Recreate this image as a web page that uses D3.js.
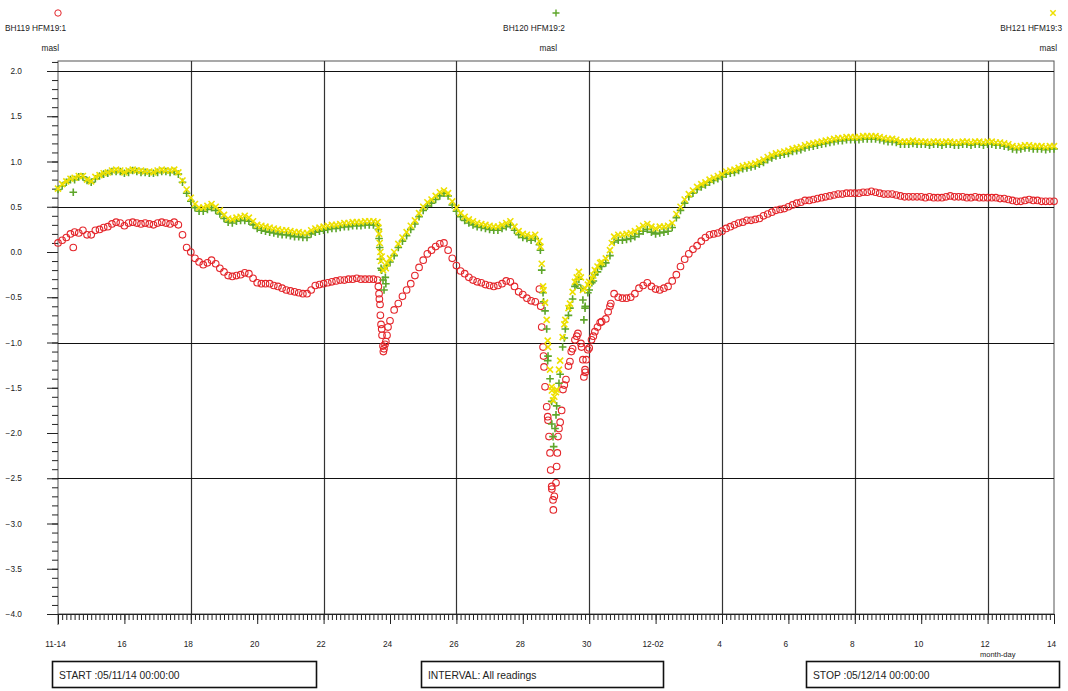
<!DOCTYPE html>
<html><head><meta charset="utf-8">
<script src="https://cdn.jsdelivr.net/npm/d3@7"></script>
<style>
body{margin:0;background:#fff}
svg{display:block}
text{font-family:"Liberation Sans",Arial,Helvetica,sans-serif;fill:#222}
</style>
</head><body>
<svg id="chart" width="1068" height="691"></svg>
<script>
// ---------- data ----------
const startDate = new Date(2014, 10, 14, 0, 0, 0);
const stopDate  = new Date(2014, 11, 14, 0, 0, 0);
const stepHours = 3; // regular reading interval
const seriesNames = ["BH119 HFM19:1", "BH120 HFM19:2", "BH121 HFM19:3"];
const unitLabel = "masl";
const yMajorTicks = [2.0, 1.5, 1.0, 0.5, 0.0, -0.5, -1.0, -1.5, -2.0, -2.5, -3.0, -3.5, -4.0];
const yGridValues = [2.0, 0.5, -1.0, -2.5];
const xLabelTicks = ["2014-11-14","2014-11-16","2014-11-18","2014-11-20","2014-11-22","2014-11-24","2014-11-26","2014-11-28","2014-11-30","2014-12-02","2014-12-04","2014-12-06","2014-12-08","2014-12-10","2014-12-12","2014-12-14"];
const xTickLabels = ["11-14","16","18","20","22","24","26","28","30","12-02","4","6","8","10","12","14"];
const xGridDates = ["2014-11-18","2014-11-22","2014-11-26","2014-11-30","2014-12-04","2014-12-08","2014-12-12"];
const footerTexts = ["START :05/11/14 00:00:00", "INTERVAL: All readings", "STOP :05/12/14 00:00:00"];

// regular 3-hourly readings (one row per day)
const bh119 = [
 0.10,0.13,0.16,0.20,0.22,0.21,0.24,0.19,
 0.19,0.24,0.25,0.27,0.28,0.31,0.33,0.32,
 0.29,0.32,0.33,0.32,0.31,0.32,0.31,0.30,
 0.32,0.33,0.32,0.31,0.33,0.30,0.19,0.05,
 0.00,-0.07,-0.11,-0.14,-0.12,-0.09,-0.13,-0.18,
 -0.22,-0.26,-0.27,-0.26,-0.25,-0.23,-0.24,-0.29,
 -0.34,-0.35,-0.35,-0.35,-0.37,-0.38,-0.40,-0.42,
 -0.43,-0.44,-0.45,-0.46,-0.46,-0.42,-0.37,-0.36,
 -0.35,-0.34,-0.33,-0.32,-0.31,-0.31,-0.30,-0.30,
 -0.29,-0.30,-0.30,-0.30,-0.30,-0.31,-0.85,-0.99,
 -0.76,-0.64,-0.57,-0.49,-0.42,-0.35,-0.26,-0.17,
 -0.09,-0.02,0.02,0.06,0.09,0.10,0.02,-0.07,
 -0.15,-0.21,-0.24,-0.28,-0.31,-0.33,-0.34,-0.36,
 -0.37,-0.38,-0.37,-0.35,-0.32,-0.33,-0.38,-0.44,
 -0.47,-0.51,-0.54,-0.55,-0.41,-1.15,-1.82,-2.62,
 -2.55,-1.88,-1.47,-1.26,-1.07,-0.93,-1.01,-1.30,
 -1.06,-0.93,-0.83,-0.77,-0.74,-0.60,-0.46,-0.50,
 -0.51,-0.51,-0.50,-0.46,-0.40,-0.37,-0.34,-0.38,
 -0.41,-0.42,-0.40,-0.38,-0.32,-0.25,-0.16,-0.08,
 -0.02,0.03,0.07,0.12,0.16,0.19,0.20,0.21,
 0.23,0.26,0.28,0.30,0.32,0.33,0.35,0.35,
 0.36,0.37,0.40,0.42,0.44,0.46,0.47,0.48,
 0.50,0.52,0.54,0.55,0.57,0.57,0.58,0.59,
 0.60,0.61,0.62,0.63,0.64,0.64,0.65,0.65,
 0.65,0.65,0.66,0.66,0.67,0.66,0.65,0.64,
 0.64,0.64,0.63,0.62,0.61,0.61,0.61,0.61,
 0.61,0.60,0.61,0.60,0.60,0.60,0.61,0.62,
 0.61,0.61,0.61,0.60,0.60,0.61,0.60,0.60,
 0.60,0.60,0.60,0.59,0.59,0.58,0.57,0.56,
 0.56,0.57,0.58,0.57,0.57,0.56,0.56,0.56,
 0.56
];
const bh120 = [
 0.69,0.73,0.77,0.80,0.80,0.83,0.83,0.79,
 0.77,0.81,0.84,0.86,0.87,0.89,0.89,0.89,
 0.87,0.88,0.90,0.89,0.88,0.88,0.87,0.87,
 0.88,0.89,0.89,0.88,0.89,0.86,0.77,0.65,
 0.56,0.49,0.45,0.45,0.47,0.49,0.46,0.42,
 0.37,0.33,0.32,0.34,0.35,0.35,0.34,0.30,
 0.26,0.24,0.23,0.22,0.21,0.20,0.19,0.19,
 0.18,0.17,0.17,0.16,0.16,0.20,0.22,0.23,
 0.24,0.25,0.26,0.26,0.27,0.28,0.28,0.29,
 0.29,0.29,0.30,0.30,0.30,0.29,-0.20,-0.35,
 -0.11,-0.04,0.05,0.12,0.18,0.25,0.31,0.39,
 0.46,0.51,0.54,0.58,0.62,0.65,0.62,0.52,
 0.45,0.39,0.35,0.32,0.30,0.28,0.27,0.26,
 0.25,0.24,0.24,0.26,0.28,0.30,0.24,0.19,
 0.16,0.15,0.13,0.15,0.08,-0.55,-1.20,-1.90,
 -1.80,-1.35,-0.95,-0.70,-0.52,-0.36,-0.40,-0.62,
 -0.42,-0.32,-0.22,-0.16,-0.12,-0.04,0.11,0.13,
 0.13,0.14,0.15,0.17,0.20,0.23,0.25,0.22,
 0.20,0.21,0.22,0.23,0.27,0.38,0.46,0.54,
 0.61,0.65,0.69,0.72,0.74,0.77,0.79,0.81,
 0.83,0.86,0.87,0.88,0.90,0.92,0.93,0.94,
 0.95,0.97,0.99,1.02,1.04,1.06,1.07,1.08,
 1.09,1.11,1.12,1.13,1.15,1.16,1.17,1.18,
 1.19,1.20,1.21,1.22,1.23,1.23,1.24,1.24,
 1.24,1.24,1.25,1.25,1.25,1.25,1.24,1.23,
 1.22,1.22,1.21,1.19,1.19,1.19,1.20,1.19,
 1.19,1.19,1.18,1.19,1.19,1.18,1.19,1.19,
 1.18,1.18,1.19,1.19,1.18,1.19,1.19,1.18,
 1.19,1.19,1.18,1.18,1.17,1.16,1.14,1.13,
 1.14,1.15,1.15,1.14,1.14,1.14,1.13,1.14,
 1.14
];
const bh121 = [
 0.70,0.75,0.78,0.81,0.82,0.84,0.84,0.80,
 0.78,0.83,0.85,0.87,0.88,0.90,0.91,0.90,
 0.88,0.90,0.91,0.90,0.90,0.89,0.89,0.88,
 0.90,0.91,0.90,0.90,0.91,0.88,0.79,0.69,
 0.60,0.53,0.49,0.49,0.51,0.53,0.50,0.46,
 0.41,0.37,0.36,0.38,0.39,0.40,0.38,0.34,
 0.30,0.29,0.28,0.27,0.26,0.25,0.24,0.24,
 0.23,0.22,0.22,0.21,0.21,0.24,0.26,0.27,
 0.28,0.29,0.30,0.30,0.31,0.32,0.32,0.33,
 0.33,0.33,0.34,0.34,0.34,0.33,-0.05,-0.18,
 -0.07,0.00,0.09,0.16,0.22,0.29,0.35,0.43,
 0.50,0.55,0.58,0.62,0.66,0.68,0.65,0.56,
 0.49,0.43,0.39,0.36,0.34,0.32,0.31,0.30,
 0.29,0.28,0.28,0.30,0.32,0.34,0.28,0.23,
 0.20,0.19,0.17,0.19,0.12,-0.42,-0.98,-1.53,
 -1.55,-1.20,-0.80,-0.62,-0.44,-0.28,-0.28,-0.40,
 -0.33,-0.26,-0.16,-0.11,-0.07,0.02,0.17,0.19,
 0.19,0.20,0.21,0.23,0.26,0.29,0.31,0.28,
 0.26,0.28,0.28,0.29,0.32,0.42,0.50,0.58,
 0.64,0.68,0.72,0.75,0.77,0.80,0.82,0.84,
 0.86,0.89,0.90,0.91,0.93,0.95,0.96,0.97,
 0.98,1.00,1.02,1.05,1.07,1.09,1.10,1.11,
 1.12,1.14,1.15,1.16,1.18,1.19,1.20,1.21,
 1.22,1.23,1.24,1.25,1.26,1.26,1.27,1.27,
 1.27,1.27,1.28,1.28,1.28,1.28,1.27,1.26,
 1.25,1.25,1.24,1.22,1.22,1.22,1.23,1.22,
 1.22,1.22,1.21,1.22,1.22,1.21,1.22,1.22,
 1.21,1.21,1.22,1.22,1.21,1.22,1.22,1.21,
 1.22,1.22,1.21,1.21,1.20,1.19,1.17,1.16,
 1.17,1.18,1.18,1.17,1.17,1.17,1.16,1.17,
 1.17
];

// extra readings logged during fast events: [days after start, value]
const bh119Events = [
 [0.46,0.05],
 [9.65,-0.38],[9.67,-0.46],[9.68,-0.52],[9.70,-0.58],[9.71,-0.70],[9.73,-0.80],[9.76,-0.92],[9.79,-1.04],[9.80,-1.10],[9.82,-1.07],[9.85,-1.02],[9.91,-0.92],[9.94,-0.83],
 [14.54,-0.60],[14.57,-0.83],[14.61,-1.05],[14.64,-1.27],[14.67,-1.49],[14.72,-1.71],[14.76,-1.86],[14.79,-2.04],[14.82,-2.22],[14.84,-2.41],[14.87,-2.59],[14.91,-2.74],[14.92,-2.85],[14.95,-2.70],
 [15.02,-2.37],[15.04,-2.22],[15.06,-2.04],[15.09,-1.95],[15.17,-1.75],[15.21,-1.52],[15.30,-1.41],[15.42,-1.21],[15.46,-1.10],[15.57,-0.97],[15.66,-0.90],
 [15.77,-1.05],[15.81,-1.19],[15.84,-1.38],[15.88,-1.33],[15.91,-1.19],[15.96,-1.08],[16.07,-0.97],[16.17,-0.88],[16.33,-0.78],[16.57,-0.66],[16.65,-0.57]
];
const bh120Events = [
 [0.46,0.66],
 [9.65,0.25],[9.67,0.15],[9.69,0.05],[9.71,-0.08],[9.73,-0.18],[9.79,-0.31],[9.82,-0.42],[9.86,-0.28],[9.91,-0.15],
 [14.53,0.02],[14.57,-0.20],[14.61,-0.45],[14.67,-0.65],[14.72,-0.85],[14.76,-1.15],[14.82,-1.40],[14.87,-1.65],[14.91,-2.04],[14.93,-2.15],[14.97,-1.95],
 [15.02,-1.70],[15.09,-1.45],[15.20,-1.05],[15.28,-0.85],[15.42,-0.62],[15.57,-0.38],[15.69,-0.30],[15.81,-0.53],[15.84,-0.75],[15.88,-0.60],[15.96,-0.45],[16.08,-0.34],[16.17,-0.25],[16.33,-0.15]
];
const bh121Events = [
 [9.65,0.27],[9.67,0.20],[9.69,0.10],[9.71,0.00],[9.73,-0.10],[9.79,-0.20],[9.91,-0.12],
 [14.53,0.06],[14.57,-0.13],[14.61,-0.38],[14.67,-0.56],[14.72,-0.75],[14.76,-1.05],[14.82,-1.30],[14.87,-1.49],[14.91,-1.64],[14.95,-1.60],
 [15.02,-1.52],[15.09,-1.30],[15.20,-0.94],[15.28,-0.75],[15.42,-0.57],[15.57,-0.33],[15.69,-0.22],[15.81,-0.42],[15.96,-0.36],[16.08,-0.29],[16.17,-0.20],[16.33,-0.12],[16.68,0.10]
];

const seriesColors = ["#e4262b", "#5ea62a", "#eee000"];

// ---------- build ----------
const DAY = 86400000;
const regularTimes = d3.range(bh119.length).map(i => new Date(startDate.getTime() + i * stepHours * 3600000));
function toPoints(values, events) {
  const pts = values.map((v, i) => ({t: regularTimes[i], v}));
  events.forEach(([d, v]) => pts.push({t: new Date(startDate.getTime() + d * DAY), v}));
  return pts;
}
const parse = d3.timeParse("%Y-%m-%d");

const svg = d3.select("#chart");
const L = 58, R = 1054, T = 61, B = 614;
const x = d3.scaleTime().domain([startDate, stopDate]).range([L, R]);
const y = d3.scaleLinear().domain([-4, 2]).range([B, 71]);

// frame
svg.append("rect").attr("x", L).attr("y", T).attr("width", R - L).attr("height", B - T)
  .attr("fill", "none").attr("stroke", "#555").attr("stroke-width", 1);

// vertical grid lines
svg.append("g").selectAll("line").data(xGridDates.map(parse)).join("line")
  .attr("x1", d => Math.round(x(d)) + 0.5).attr("x2", d => Math.round(x(d)) + 0.5)
  .attr("y1", T).attr("y2", B).attr("stroke", "#333").attr("stroke-width", 1.2);

// horizontal grid lines
svg.append("g").selectAll("line").data(yGridValues).join("line")
  .attr("x1", L).attr("x2", R)
  .attr("y1", d => Math.round(y(d)) + 0.5).attr("y2", d => Math.round(y(d)) + 0.5)
  .attr("stroke", "#111").attr("stroke-width", 1);

// y axis: minor ticks
const yMinor = d3.range(-40, 22).map(k => k / 10);
svg.append("g").attr("transform", `translate(${L},0)`)
  .call(d3.axisLeft(y).tickValues(yMinor).tickSize(6).tickSizeOuter(0).tickFormat(""))
  .call(g => g.select(".domain").remove())
  .call(g => g.selectAll("line").attr("stroke", "#222"));
// y axis: major ticks & labels
svg.append("g").attr("transform", `translate(${L},0)`)
  .call(d3.axisLeft(y).tickValues(yMajorTicks).tickSize(11).tickSizeOuter(0).tickPadding(25).tickFormat(d3.format(".1f")))
  .call(g => g.select(".domain").remove())
  .call(g => g.selectAll("line").attr("stroke", "#222"))
  .call(g => g.selectAll("text").attr("font-size", 8.3).attr("font-family", '"Liberation Sans",Arial,sans-serif').attr("fill", "#222"));
svg.append("line").attr("x1", L).attr("x2", L).attr("y1", B).attr("y2", B + 11).attr("stroke", "#555");

// x axis: minor 3-hour ticks
svg.append("g").attr("transform", `translate(0,${B})`)
  .call(d3.axisBottom(x).ticks(d3.timeHour.every(3)).tickSize(6).tickSizeOuter(0).tickFormat(""))
  .call(g => g.select(".domain").remove())
  .call(g => g.selectAll("line").attr("stroke", "#222"));
// x axis: labelled ticks
svg.append("g").attr("transform", `translate(0,${B})`)
  .call(d3.axisBottom(x).tickValues(xLabelTicks.map(parse)).tickSize(10).tickSizeOuter(0).tickPadding(17)
    .tickFormat((d, i) => xTickLabels[i]))
  .call(g => g.select(".domain").remove())
  .call(g => g.selectAll("line").attr("stroke", "#222"))
  .call(g => g.selectAll("text").attr("font-size", 8.3).attr("dx", -3).attr("fill", "#222")
    .attr("font-family", '"Liberation Sans",Arial,sans-serif'));
svg.append("line").attr("x1", 47).attr("x2", R).attr("y1", B + 0.5).attr("y2", B + 0.5).attr("stroke", "#222");
svg.append("text").attr("x", 980).attr("y", 657).attr("font-size", 7.5).text("month-day");

// ---------- markers ----------
const pts119 = toPoints(bh119, bh119Events);
const pts120 = toPoints(bh120, bh120Events);
const pts121 = toPoints(bh121, bh121Events);
const plotG = svg.append("g");
plotG.append("g").selectAll("circle").data(pts119).join("circle")
  .attr("cx", d => x(d.t)).attr("cy", d => y(d.v)).attr("r", 3.3)
  .attr("fill", "none").attr("stroke", seriesColors[0]).attr("stroke-width", 1.1);
const plusPath = (cx, cy, s) => `M${cx - s},${cy}H${cx + s}M${cx},${cy - s}V${cy + s}`;
const crossPath = (cx, cy, s) => `M${cx - s},${cy - s}L${cx + s},${cy + s}M${cx - s},${cy + s}L${cx + s},${cy - s}`;
plotG.append("g").selectAll("path").data(pts120).join("path")
  .attr("d", d => plusPath(x(d.t), y(d.v), 3.8))
  .attr("fill", "none").attr("stroke", seriesColors[1]).attr("stroke-width", 1.6);
plotG.append("g").selectAll("path").data(pts121).join("path")
  .attr("d", d => crossPath(x(d.t), y(d.v), 3.0))
  .attr("fill", "none").attr("stroke", seriesColors[2]).attr("stroke-width", 1.6);

// ---------- legend ----------
const legend = [
  {mx: 58, tx: 5, anchor: "start", ux: 59},
  {mx: 556, tx: 534, anchor: "middle", ux: 557},
  {mx: 1053, tx: 1062, anchor: "end", ux: 1057}
];
svg.append("circle").attr("cx", legend[0].mx).attr("cy", 13).attr("r", 3.2)
  .attr("fill", "none").attr("stroke", seriesColors[0]).attr("stroke-width", 1);
svg.append("path").attr("d", plusPath(legend[1].mx, 13, 3.5)).attr("stroke", seriesColors[1]).attr("stroke-width", 1.4);
svg.append("path").attr("d", crossPath(legend[2].mx, 13, 2.7)).attr("stroke", seriesColors[2]).attr("stroke-width", 1.5);
legend.forEach((l, i) => {
  svg.append("text").attr("x", l.tx).attr("y", 31).attr("font-size", 8.3).attr("text-anchor", l.anchor).text(seriesNames[i]);
  svg.append("text").attr("x", l.ux).attr("y", 51).attr("font-size", 8.3).attr("text-anchor", "end").text(unitLabel);
});

// ---------- footer boxes ----------
const boxes = [{x: 52, w: 264}, {x: 421, w: 242}, {x: 806, w: 253}];
boxes.forEach((b, i) => {
  svg.append("rect").attr("x", b.x + 0.5).attr("y", 661.5).attr("width", b.w).attr("height", 26)
    .attr("fill", "none").attr("stroke", "#111").attr("stroke-width", 1.6);
  svg.append("text").attr("x", b.x + 7).attr("y", 679).attr("font-size", 10.3).text(footerTexts[i]);
});
</script>
</body></html>
